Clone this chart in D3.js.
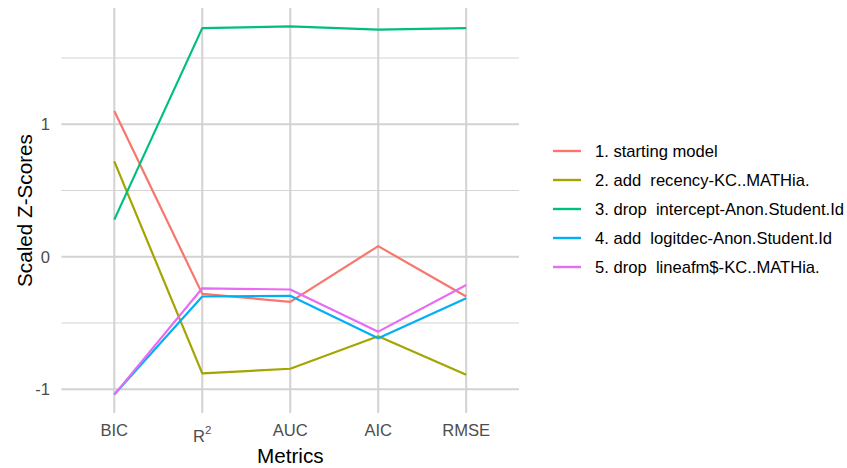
<!DOCTYPE html>
<html>
<head>
<meta charset="utf-8">
<script src="https://cdn.jsdelivr.net/npm/d3@7"></script>
<style>
  body { margin: 0; background: #fff; }
  svg text { font-family: "Liberation Sans", Arial, sans-serif; }
</style>
</head>
<body>
<svg id="chart" width="847" height="468"></svg>
<script>
// Metrics on the x axis, in display order
const metrics = ["BIC", "R2", "AUC", "AIC", "RMSE"];

// Model names (legend order)
const models = [
  "1. starting model",
  "2. add  recency-KC..MATHia.",
  "3. drop  intercept-Anon.Student.Id",
  "4. add  logitdec-Anon.Student.Id",
  "5. drop  lineafm$-KC..MATHia."
];

// Scaled z-scores per model, one value per metric
const startingModel   = [1.10, -0.28, -0.34, 0.08, -0.30];
const addRecency      = [0.72, -0.88, -0.845, -0.60, -0.89];
const dropIntercept   = [0.28, 1.725, 1.738, 1.713, 1.725];
const addLogitdec     = [-1.04, -0.30, -0.295, -0.615, -0.313];
const dropLineafm     = [-1.04, -0.238, -0.247, -0.565, -0.213];

const seriesValues = [startingModel, addRecency, dropIntercept, addLogitdec, dropLineafm];

const yTicks = [-1, 0, 1];
const yMinor = [-0.5, 0.5, 1.5];

const colors = ["#F8766D", "#A3A500", "#00BF7D", "#00B0F6", "#E76BF3"];

const svg = d3.select("#chart");
const panel = { left: 61.5, right: 519, top: 8, bottom: 413 };

// Discrete x positions with 0.6 expansion on each side
const x = d3.scalePoint()
  .domain(metrics)
  .range([panel.left, panel.right])
  .padding(0.6);

const allVals = seriesValues.flat();
const yMin = d3.min(allVals), yMax = d3.max(allVals);
const pad = (yMax - yMin) * 0.05;
const y = d3.scaleLinear()
  .domain([yMin - pad, yMax + pad])
  .range([panel.bottom, panel.top]);

const grid = svg.append("g");

// Minor horizontal grid
grid.selectAll("line.minor")
  .data(yMinor)
  .join("line")
  .attr("x1", panel.left).attr("x2", panel.right)
  .attr("y1", d => y(d)).attr("y2", d => y(d))
  .attr("stroke", "#D4D4D4").attr("stroke-width", 1.1);

// Major horizontal grid
grid.selectAll("line.major")
  .data(yTicks)
  .join("line")
  .attr("x1", panel.left).attr("x2", panel.right)
  .attr("y1", d => y(d)).attr("y2", d => y(d))
  .attr("stroke", "#D2D2D2").attr("stroke-width", 2);

// Vertical grid at each metric
grid.selectAll("line.vert")
  .data(metrics)
  .join("line")
  .attr("x1", d => x(d)).attr("x2", d => x(d))
  .attr("y1", panel.top).attr("y2", panel.bottom)
  .attr("stroke", "#D2D2D2").attr("stroke-width", 2);

// Model lines
const line = d3.line()
  .x((d, i) => x(metrics[i]))
  .y(d => y(d));

svg.append("g")
  .selectAll("path")
  .data(seriesValues)
  .join("path")
  .attr("d", d => line(d))
  .attr("fill", "none")
  .attr("stroke", (d, i) => colors[i])
  .attr("stroke-width", 2.2)
  .attr("stroke-linejoin", "round");

// Y tick labels
svg.append("g")
  .selectAll("text")
  .data(yTicks)
  .join("text")
  .attr("x", 50)
  .attr("y", d => y(d))
  .attr("dy", "0.36em")
  .attr("text-anchor", "end")
  .attr("fill", "#4D4D4D")
  .attr("font-size", 16.6)
  .text(d => d);

// X tick labels (R2 gets a superscript)
const xl = svg.append("g")
  .selectAll("text")
  .data(metrics)
  .join("text")
  .attr("x", d => x(d))
  .attr("y", 436)
  .attr("text-anchor", "middle")
  .attr("fill", "#4D4D4D")
  .attr("font-size", 16.6);

xl.each(function(d) {
  const t = d3.select(this);
  if (d === "R2") {
    t.attr("y", 442);
    t.append("tspan").text("R");
    t.append("tspan").attr("dy", -8).attr("font-size", 11.5).text("2");
  } else {
    t.text(d);
  }
});

// Axis titles
svg.append("text")
  .attr("x", x("AUC"))
  .attr("y", 463)
  .attr("text-anchor", "middle")
  .attr("font-size", 20.7)
  .attr("fill", "#000")
  .text("Metrics");

svg.append("text")
  .attr("transform", `translate(32,${(panel.top + panel.bottom) / 2}) rotate(-90)`)
  .attr("text-anchor", "middle")
  .attr("font-size", 20.7)
  .attr("fill", "#000")
  .text("Scaled Z-Scores");

// Legend
const legend = svg.append("g");
const rowY = i => 151 + i * 29;
legend.selectAll("line")
  .data(models)
  .join("line")
  .attr("x1", 553).attr("x2", 581)
  .attr("y1", (d, i) => rowY(i)).attr("y2", (d, i) => rowY(i))
  .attr("stroke", (d, i) => colors[i])
  .attr("stroke-width", 2.4);

legend.selectAll("text")
  .data(models)
  .join("text")
  .attr("x", 595)
  .attr("y", (d, i) => rowY(i))
  .attr("dy", "0.36em")
  .attr("font-size", 16.6)
  .attr("fill", "#000")
  .style("white-space", "pre")
  .attr("xml:space", "preserve")
  .text(d => d);
</script>
</body>
</html>
